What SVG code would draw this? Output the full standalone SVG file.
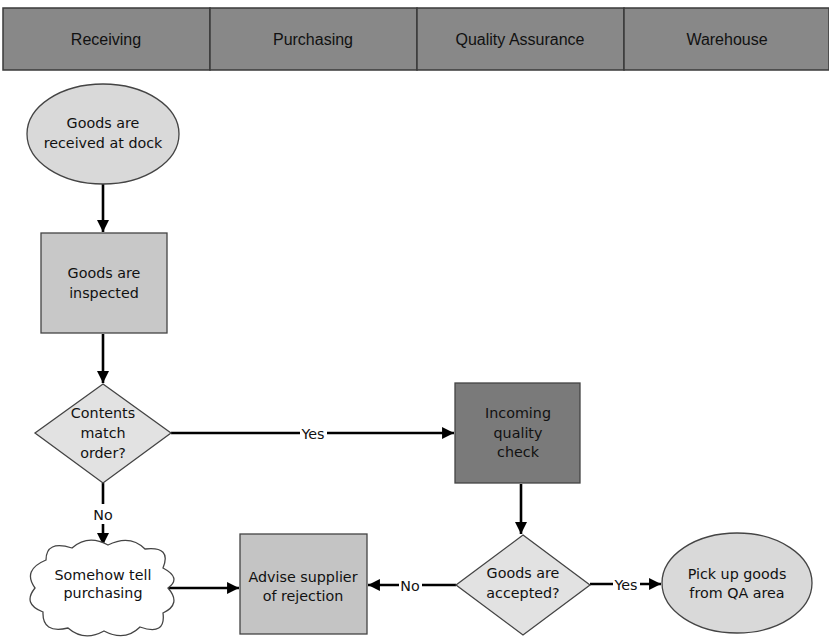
<svg xmlns="http://www.w3.org/2000/svg" width="829" height="640" viewBox="0 0 829 640">
<style>
.hdr{fill:#888;stroke:#3a3a3a;stroke-width:1.5}
.ht{font-family:"Liberation Sans",Arial,sans-serif;font-size:16px;fill:#111;text-anchor:middle}
.nt{font-family:"DejaVu Sans",Verdana,sans-serif;font-size:14.3px;fill:#111;text-anchor:middle}
.lt{font-family:"DejaVu Sans",Verdana,sans-serif;font-size:14.3px;fill:#111;text-anchor:middle}
.shape{stroke:#444;stroke-width:1.3}
.conn{fill:none;stroke:#000;stroke-width:2.6}
.lbg{fill:#fff}
</style>
<defs>
<marker id="ah" viewBox="0 0 10 10" refX="10" refY="5" markerWidth="5" markerHeight="4.6" orient="auto" markerUnits="strokeWidth">
<path d="M0,0 L10,5 L0,10 Z" fill="#000"/>
</marker>
</defs>
<rect width="829" height="640" fill="#fff"/>
<g id="header">
<rect class="hdr" x="3" y="8" width="207" height="62"/>
<rect class="hdr" x="210" y="8" width="207" height="62"/>
<rect class="hdr" x="417" y="8" width="207" height="62"/>
<rect class="hdr" x="624" y="8" width="205" height="62"/>
<text class="ht" x="106" y="45">Receiving</text>
<text class="ht" x="313" y="45">Purchasing</text>
<text class="ht" x="520" y="45">Quality Assurance</text>
<text class="ht" x="727" y="45">Warehouse</text>
</g>
<g id="connectors">
<line class="conn" x1="103" y1="184" x2="103" y2="232" marker-end="url(#ah)"/>
<line class="conn" x1="103" y1="334" x2="103" y2="383" marker-end="url(#ah)"/>
<line class="conn" x1="103" y1="483" x2="103" y2="545" marker-end="url(#ah)"/>
<line class="conn" x1="171" y1="433" x2="454" y2="433" marker-end="url(#ah)"/>
<line class="conn" x1="168" y1="588" x2="239" y2="588" marker-end="url(#ah)"/>
<line class="conn" x1="521" y1="484" x2="521" y2="534" marker-end="url(#ah)"/>
<line class="conn" x1="456" y1="585" x2="368" y2="585" marker-end="url(#ah)"/>
<line class="conn" x1="590" y1="584" x2="661" y2="584" marker-end="url(#ah)"/>
<rect class="lbg" x="91" y="504" width="24" height="20"/>
<text class="lt" x="103" y="520">No</text>
<rect class="lbg" x="300" y="424" width="27" height="19"/>
<text class="lt" x="313" y="439">Yes</text>
<rect class="lbg" x="399" y="576" width="23" height="19"/>
<text class="lt" x="410" y="591">No</text>
<rect class="lbg" x="613" y="575" width="27" height="19"/>
<text class="lt" x="626" y="590">Yes</text>
</g>
<g id="n_received">
<ellipse class="shape" cx="103" cy="134" rx="76" ry="50" fill="#d9d9d9"/>
<text class="nt" x="103" y="128">Goods are</text>
<text class="nt" x="103" y="148">received at dock</text>
</g>
<g id="n_inspected">
<rect class="shape" x="41" y="233" width="126" height="100" fill="#c8c8c8"/>
<text class="nt" x="104" y="278">Goods are</text>
<text class="nt" x="104" y="298">inspected</text>
</g>
<g id="n_match">
<polygon class="shape" points="103,384 171,433 103,483 35,433" fill="#e2e2e2"/>
<text class="nt" x="103" y="418">Contents</text>
<text class="nt" x="103" y="438">match</text>
<text class="nt" x="103" y="458">order?</text>
</g>
<g id="n_tell">
<path class="shape" fill="#fff" d="M46 560 Q46 540 72 548 Q88 534 108 545 Q130 534 145 549 Q172 546 163 568 Q182 578 168 588 Q182 604 163 613 Q166 636 140 627 Q125 642 104 631 Q84 642 68 628 Q42 634 43 612 Q22 604 35 588 Q22 570 46 560 Z"/>
<text class="nt" x="103" y="580">Somehow tell</text>
<text class="nt" x="103" y="598">purchasing</text>
</g>
<g id="n_advise">
<rect class="shape" x="240" y="534" width="127" height="100" fill="#c4c4c4"/>
<text class="nt" x="303" y="582">Advise supplier</text>
<text class="nt" x="303" y="601">of rejection</text>
</g>
<g id="n_qcheck">
<rect class="shape" x="455" y="383" width="125" height="100" fill="#7a7a7a"/>
<text class="nt" x="518" y="418">Incoming</text>
<text class="nt" x="518" y="438">quality</text>
<text class="nt" x="518" y="457">check</text>
</g>
<g id="n_accepted">
<polygon class="shape" points="523,535 590,585 523,635 456,585" fill="#e2e2e2"/>
<text class="nt" x="523" y="578">Goods are</text>
<text class="nt" x="523" y="598">accepted?</text>
</g>
<g id="n_pickup">
<ellipse class="shape" cx="737" cy="583" rx="75" ry="50" fill="#d9d9d9"/>
<text class="nt" x="737" y="579">Pick up goods</text>
<text class="nt" x="737" y="598">from QA area</text>
</g>
</svg>
